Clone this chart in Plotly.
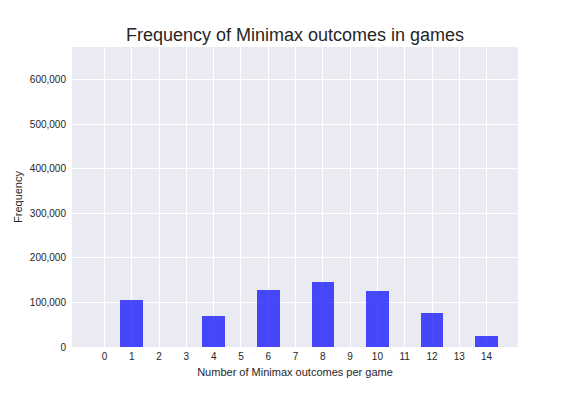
import plotly.graph_objects as go

outcomes = [1, 4, 6, 8, 10, 12, 14]
frequencies = [105000, 70000, 127500, 145500, 125500, 76000, 24000]
x_ticks = list(range(0, 15))

fig = go.Figure()
fig.add_trace(go.Bar(
    x=outcomes, y=frequencies, width=0.83,
    marker=dict(color="rgba(0,0,255,0.7)", line=dict(width=0)),
))

font = "Liberation Sans, Arial, sans-serif"
# page body has an 8px margin, so the figure is 8px smaller and margins are offset
fig.update_layout(
    width=568, height=388,
    margin=dict(l=64, r=58, t=39, b=49),
    paper_bgcolor="white", plot_bgcolor="#EAEAF2",
    showlegend=False,
    font=dict(family=font, color="#262626", size=10),
    title=dict(text="Frequency of Minimax outcomes in games", x=0.5, xref="paper",
               y=0.930, yanchor="middle", font=dict(size=18, color="#262626")),
    bargap=0,
)
fig.update_xaxes(
    range=[-1.19, 15.15], tickmode="array", tickvals=x_ticks,
    ticktext=[str(v) for v in x_ticks],
    showgrid=True, gridcolor="white", gridwidth=1.2, zeroline=False,
    ticks="", ticklabelstandoff=2, automargin=False,
    title=dict(text="Number of Minimax outcomes per game", font=dict(size=11), standoff=7),
)
fig.update_yaxes(
    range=[0, 673000], tickvals=[0, 100000, 200000, 300000, 400000, 500000, 600000],
    tickformat=",d", showgrid=True, gridcolor="white", gridwidth=1.2, zeroline=False,
    ticks="", ticklabelstandoff=5, automargin=False,
    title=dict(text="Frequency", font=dict(size=11), standoff=4),
)
fig.write_html("out.html")
